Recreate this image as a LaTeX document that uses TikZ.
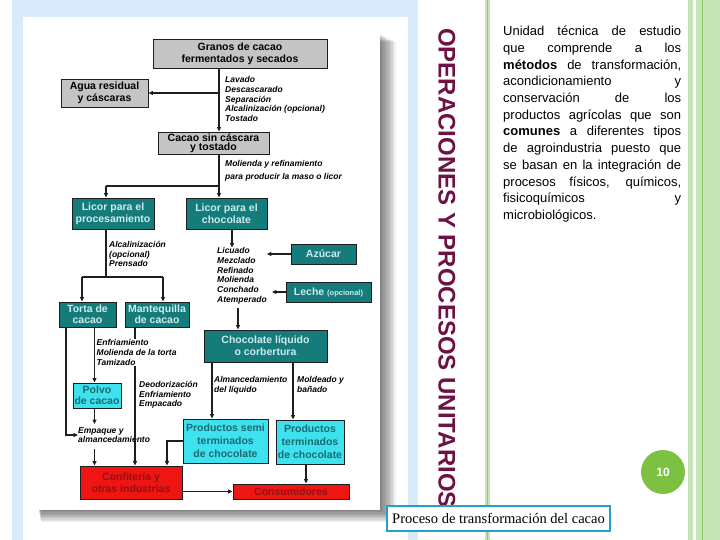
\documentclass[tikz,border=0pt]{standalone}
\usepackage{fontspec}
\setmainfont{Liberation Sans}
\newfontfamily\captionserif{Liberation Serif}
\usetikzlibrary{arrows.meta,calc}
\definecolor{PaneBlue}{HTML}{D9EAFA}
\definecolor{LeafGreen}{HTML}{C6E4B5}
\definecolor{StemGreen}{HTML}{8FCB6A}
\definecolor{BadgeGreen}{HTML}{7DC143}
\definecolor{TitlePlum}{HTML}{6C1244}
\definecolor{FrameCyan}{HTML}{22A2C8}
\definecolor{BoxGray}{HTML}{C4C4C4}
\definecolor{CacaoTeal}{HTML}{167B7B}
\definecolor{TealText}{HTML}{CDEDED}
\definecolor{BrightCyan}{HTML}{3EE2EE}
\definecolor{DeepTeal}{HTML}{1B6B70}
\definecolor{SignalRed}{HTML}{EE1512}
\definecolor{DarkRed}{HTML}{8E1414}
\definecolor{Ink}{HTML}{1E1E1E}
\newcommand{\boxfont}{\bfseries\fontsize{10.5}{11.5}\selectfont}
\newcommand{\notefont}{\bfseries\itshape\fontsize{8.5}{9.7}\selectfont}
\newcommand{\jl}[1]{\makebox[178pt][s]{#1}}
\tikzset{
  boxSize/.style 2 args={minimum width=#1pt,minimum height=#2pt},
  grayBox/.style={rectangle,draw=Ink,line width=.9pt,fill=BoxGray,text=black,
    font=\boxfont,align=center,inner sep=0pt},
  tealBox/.style={grayBox,fill=CacaoTeal,text=TealText},
  cyanBox/.style={grayBox,fill=BrightCyan,text=DeepTeal},
  redBox/.style={grayBox,fill=SignalRed,text=DarkRed},
  stepNote/.style={font=\notefont,align=left,inner sep=0pt,anchor=north west},
  flow/.style={draw=Ink,line width=1.1pt,-{Triangle[length=4.5pt,width=4pt]}},
  link/.style={draw=Ink,line width=1.1pt}
}

\begin{document}
\begin{tikzpicture}[x=1pt,y=-1pt]
  \useasboundingbox (0,0) rectangle (720,540);
  % Slide panels and side bars
  \fill[PaneBlue] (12,0) rectangle (418,540);
  \fill[white] (23,17) rectangle (408,540);
  \foreach \k in {1,...,10}
    \fill[black,opacity=.06] (38+\k*.3,34+\k*.8) rectangle (380+\k*1.6,510+\k*1.2);
  \fill[white] (38,32) rectangle (380,510);
  \fill[LeafGreen] (485,0) rectangle (490,540);
  \draw[StemGreen,line width=1pt] (487.5,0) -- (487.5,540);
  \fill[LeafGreen] (688,0) rectangle (693,540);
  \fill[LeafGreen] (696,0) rectangle (720,540);
  \draw[StemGreen,line width=1pt] (702,0) -- (702,540);

  % Beans, cleaning and roasting
  \coordinate (mainX) at (219,0);
  \node[grayBox,boxSize={174}{29},font=\bfseries\fontsize{10.5}{12.3}\selectfont] (granos) at (240,53.5) {Granos de cacao\\fermentados y secados};
  \node[grayBox,boxSize={87}{28}] (agua) at (104.5,93) {Agua residual\\y cáscaras};
  \node[grayBox,boxSize={111}{22},font=\bfseries\fontsize{10.5}{9.5}\selectfont] (tostado) at (213.5,143) {Cacao sin cáscara\\y tostado};
  \node[stepNote] (limpieza) at (225,76.5) {Lavado\\Descascarado\\Separación\\Alcalinización (opcional)\\Tostado};
  \draw[flow] (granos.south -| mainX) -- (tostado.north -| mainX);
  \draw[flow] (agua.east -| mainX) -- (agua.east);

  % Grinding into liquor
  \coordinate (splitY) at (0,186);
  \coordinate (procX) at (106,0);
  \node[stepNote] (molienda) at (225,160.5) {Molienda y refinamiento\\[3pt]para producir la maso o licor};
  \node[tealBox,boxSize={82}{31},font=\bfseries\fontsize{10.5}{12}\selectfont] (licorProc) at (113,213.5) {Licor para el\\procesamiento};
  \node[tealBox,boxSize={81}{31},font=\bfseries\fontsize{10.5}{12}\selectfont] (licorChoc) at (226.5,213.5) {Licor para el\\chocolate};
  \draw[link] (tostado.south -| mainX) -- (splitY -| mainX) -- (splitY -| procX);
  \draw[flow] (splitY -| procX) -- (licorProc.north -| procX);
  \draw[flow] (splitY -| mainX) -- (licorChoc.north -| mainX);

  % Chocolate branch
  \coordinate (chocX) at (232,0);
  \coordinate (liqX) at (238,0);
  \node[stepNote] (mezcla) at (217,247.5) {Licuado\\Mezclado\\Refinado\\Molienda\\Conchado\\Atemperado};
  \node[tealBox,boxSize={65}{20}] (azucar) at (323.5,254) {Azúcar};
  \node[tealBox,boxSize={85}{20}] (leche) at (328.5,292) {Leche {\fontsize{7.5}{9}\selectfont(opcional)}};
  \node[tealBox,boxSize={123}{32},font=\bfseries\fontsize{10.5}{12}\selectfont] (chocLiq) at (265.5,346) {Chocolate líquido\\o corbertura};
  \draw[flow] (licorChoc.south -| chocX) -- (mezcla.north -| chocX);
  \draw[flow] (azucar.west) -- ($(mezcla.east |- azucar.west)+(0,0)$);
  \draw[flow] (leche.west) -- ($(mezcla.east |- leche.west)+(5,0)$);
  \draw[flow] ($(mezcla.south -| liqX)+(0,4)$) -- (chocLiq.north -| liqX);

  % Pressing branch
  \coordinate (pressY) at (0,277);
  \coordinate (tortaX) at (82,0);
  \coordinate (mantX) at (163,0);
  \node[stepNote] (alcal) at (109,241) {Alcalinización\\(opcional)\\Prensado};
  \node[tealBox,boxSize={57}{25},font=\bfseries\fontsize{10.5}{11}\selectfont] (torta) at (87.5,314.5) {Torta de\\cacao};
  \node[tealBox,boxSize={64}{25},font=\bfseries\fontsize{10.5}{11}\selectfont] (mantequilla) at (157,314.5) {Mantequilla\\de cacao};
  \draw[link] (licorProc.south -| procX) -- (pressY -| procX);
  \draw[link] (pressY -| tortaX) -- (pressY -| mantX);
  \draw[flow] (pressY -| tortaX) -- (torta.north -| tortaX);
  \draw[flow] (pressY -| mantX) -- (mantequilla.north -| mantX);

  % Powder, packing and industry
  \coordinate (sideX) at (66,0);
  \coordinate (powderX) at (94.5,0);
  \coordinate (butterX) at (135,0);
  \node[cyanBox,boxSize={48}{25},font=\bfseries\fontsize{10.5}{11}\selectfont] (polvo) at (97,395.5) {Polvo\\de cacao};
  \node[stepNote] (deodor) at (139,381) {Deodorización\\Enfriamiento\\Empacado};
  \node[stepNote] (empaque) at (78,427) {Empaque y\\almancedamiento};
  \node[redBox,boxSize={102}{33},font=\bfseries\fontsize{10.5}{11.5}\selectfont] (confiteria) at (131,482.5) {Confitería y\\otras industrias};
  \draw[flow] (torta.south -| powderX) -- (polvo.north -| powderX);
  \draw[flow] (torta.south -| sideX) |- (empaque.west);
  \draw[flow] (polvo.south -| powderX) -- ($(empaque.north -| powderX)+(0,-3)$);
  \draw[flow] ($(empaque.south -| powderX)+(0,6)$) -- (confiteria.north -| powderX);
  \draw[flow] (mantequilla.south -| butterX) -- (confiteria.north -| butterX);
  \node[stepNote,fill=white,inner sep=1pt] (tamizado) at (95.5,338.5) {Enfriamiento\\Molienda de la torta\\Tamizado};

  % Finished goods and consumers
  \coordinate (semiX) at (212,0);
  \coordinate (moldX) at (293,0);
  \coordinate (dropX) at (167,0);
  \coordinate (consX) at (306,0);
  \node[stepNote] (almacen) at (214,376) {Almancedamiento\\del líquido};
  \node[stepNote] (moldeado) at (297,376) {Moldeado y\\bañado};
  \node[cyanBox,boxSize={85}{44},font=\bfseries\fontsize{10.5}{13}\selectfont] (semi) at (225.5,441) {Productos semi\\terminados\\de chocolate};
  \node[cyanBox,boxSize={68}{44},font=\bfseries\fontsize{10.5}{13}\selectfont] (terminados) at (310,442) {Productos\\terminados\\de chocolate};
  \node[redBox,boxSize={116}{15}] (consumidores) at (291,491.5) {Consumidores};
  \draw[flow] (chocLiq.south -| semiX) -- (semi.north -| semiX);
  \draw[flow] (chocLiq.south -| moldX) -- (terminados.north -| moldX);
  \draw[flow] (semi.west) -| (confiteria.north -| dropX);
  \draw[flow] (terminados.south -| consX) -- (consumidores.north -| consX);
  \draw[flow] (confiteria.east |- consumidores.west) -- (consumidores.west);

  % Title, text and footer
  \node[rotate=-90,text=TitlePlum,font=\bfseries\fontsize{24}{24}\selectfont,inner sep=0pt] (title) at (447,268) {OPERACIONES Y PROCESOS UNITARIOS};
  \node[anchor=north west,inner sep=0pt,align=left,font=\fontsize{13}{16.7}\selectfont] (intro) at (503,26) {%
    \jl{Unidad técnica de estudio}\\
    \jl{que comprende a los}\\
    \jl{\textbf{métodos} de transformación,}\\
    \jl{acondicionamiento y}\\
    \jl{conservación de los}\\
    \jl{productos agrícolas que son}\\
    \jl{\textbf{comunes} a diferentes tipos}\\
    \jl{de agroindustria puesto que}\\
    \jl{se basan en la integración de}\\
    \jl{procesos físicos, químicos,}\\
    \jl{fisicoquímicos y}\\
    microbiológicos.};
  \node[circle,fill=BadgeGreen,minimum size=44pt,inner sep=0pt,text=white,font=\bfseries\fontsize{12}{12}\selectfont] (pageNo) at (663,472) {10};
  \node[draw=FrameCyan,line width=2pt,fill=white,boxSize={223}{25},inner sep=0pt,font=\captionserif\fontsize{14.5}{16}\selectfont] (caption) at (498.5,518.5) {Proceso de transformación del cacao};
\end{tikzpicture}
\end{document}
